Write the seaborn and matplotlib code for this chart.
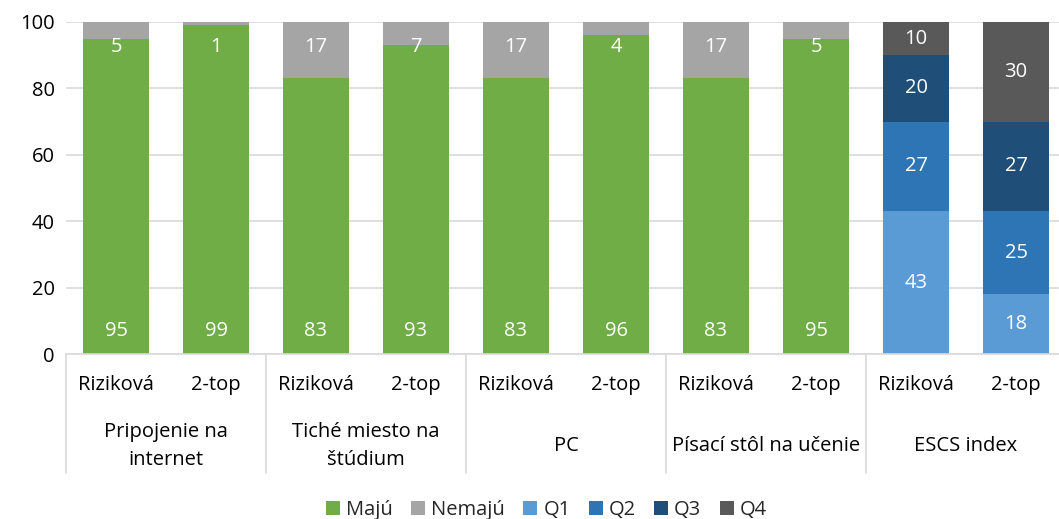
import pandas as pd
import matplotlib
matplotlib.use("Agg")
from matplotlib import pyplot as plt
import matplotlib.transforms as mtransforms
import seaborn as sns

# Data
groups = ["Pripojenie na\ninternet", "Tiché miesto na\nštúdium", "PC",
          "Písací stôl na učenie", "ESCS index"]
subgroups = ["Riziková", "2-top"]

maju = [95, 99, 83, 93, 83, 96, 83, 95]
nemaju = [5, 1, 17, 7, 17, 4, 17, 5]
q1 = [43, 18]
q2 = [27, 25]
q3 = [20, 27]
q4 = [10, 30]

colors = {
    "Majú": "#70AD47",
    "Nemajú": "#A5A5A5",
    "Q1": "#5B9BD5",
    "Q2": "#2E75B6",
    "Q3": "#1F4E79",
    "Q4": "#595959",
}

keys = [f"{g}|{s}" for g in groups for s in subgroups]
green_keys = keys[:8]
escs_keys = keys[8:]

sns.set_theme(style="white")
plt.rcParams["font.family"] = ["Open Sans", "DejaVu Sans"]
FS = 14.5

fig = plt.figure(figsize=(10.59, 5.19), dpi=100)
ax = fig.add_axes([66 / 1059, 1 - 354 / 519, 1 - 66 / 1059, (354 - 22) / 519])

# stacked bars drawn as overlapping cumulative totals (top layer first)
df_g = pd.DataFrame({"key": green_keys, "Majú": maju, "Nemajú": nemaju})
df_g["Nemajú_cum"] = df_g["Majú"] + df_g["Nemajú"]
df_g["Majú_cum"] = df_g["Majú"]
df_e = pd.DataFrame({"key": escs_keys, "Q1": q1, "Q2": q2, "Q3": q3, "Q4": q4})
df_e["Q1_cum"] = df_e["Q1"]
df_e["Q2_cum"] = df_e["Q1_cum"] + df_e["Q2"]
df_e["Q3_cum"] = df_e["Q2_cum"] + df_e["Q3"]
df_e["Q4_cum"] = df_e["Q3_cum"] + df_e["Q4"]

for name, df in [("Nemajú", df_g), ("Majú", df_g), ("Q4", df_e),
                 ("Q3", df_e), ("Q2", df_e), ("Q1", df_e)]:
    sns.barplot(data=df, x="key", y=f"{name}_cum", order=keys,
                color=colors[name], saturation=1, width=0.66,
                errorbar=None, linewidth=0, ax=ax, label=name)

# data labels
for i, k in enumerate(green_keys):
    ax.text(i, 7, str(maju[i]), ha="center", va="center", color="white", fontsize=FS)
    ax.text(i, 92.5, str(nemaju[i]), ha="center", va="center", color="white", fontsize=FS)
for j, k in enumerate(escs_keys):
    x = keys.index(k)
    base = 0
    for name in ["Q1", "Q2", "Q3", "Q4"]:
        v = df_e.loc[j, name]
        ax.text(x, base + v / 2, str(v), ha="center", va="center",
                color="white", fontsize=FS)
        base += v

ax.set_ylim(0, 100)
ax.set_xlim(-0.5, 9.43)
ax.set_yticks(range(0, 101, 20))
ax.tick_params(axis="y", labelsize=FS, length=0, pad=8, colors="black")
ax.yaxis.grid(True, color="#D9D9D9", linewidth=1.2)
ax.set_axisbelow(True)
ax.set_xticks([])
ax.set_xlabel("")
ax.set_ylabel("")
for side in ["top", "right", "left"]:
    ax.spines[side].set_visible(False)
ax.spines["bottom"].set_color("#D9D9D9")
ax.spines["bottom"].set_linewidth(1.2)

# multi-level category axis
trans = mtransforms.blended_transform_factory(ax.transData, fig.transFigure)
for i, k in enumerate(keys):
    ax.text(i, 1 - 385 / 519, k.split("|")[1], transform=trans, ha="center",
            va="center", fontsize=FS, color="black")
for gi, g in enumerate(groups):
    cx = gi * 2 + 0.5
    ax.text(cx, 1 - 446 / 519, g, transform=trans, ha="center", va="center",
            fontsize=FS, color="black", linespacing=1.5)
    ax.plot([gi * 2 - 0.5, gi * 2 - 0.5], [1 - 354 / 519, 1 - 473 / 519],
            transform=trans, color="#D9D9D9", linewidth=1.2, clip_on=False)

# legend
handles, labels = ax.get_legend_handles_labels()
order = ["Majú", "Nemajú", "Q1", "Q2", "Q3", "Q4"]
hmap = dict(zip(labels, handles))
fig.legend([hmap[o] for o in order], order, loc="center",
           bbox_to_anchor=(0.516, 1 - 510 / 519), ncol=6, frameon=False,
           fontsize=FS, handlelength=0.7, handleheight=0.7,
           handletextpad=0.3, columnspacing=0.9)
if ax.get_legend() is not None:
    ax.get_legend().remove()

fig.savefig("out.png", dpi=100)
